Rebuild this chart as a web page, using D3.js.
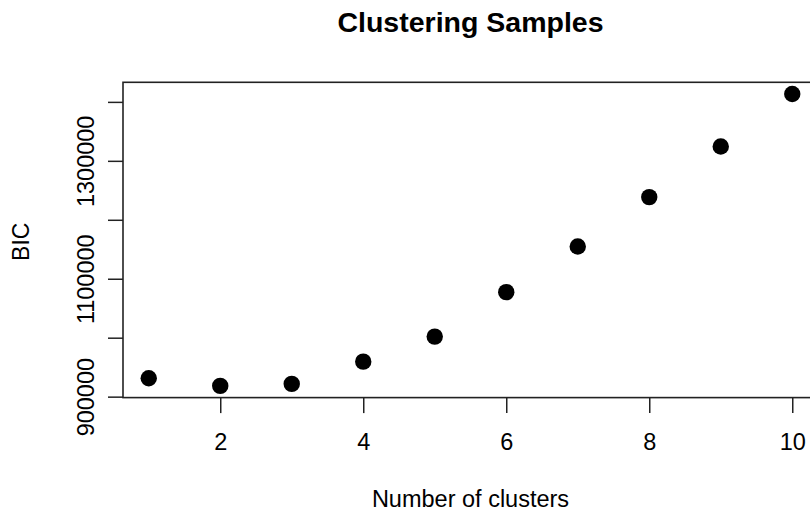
<!DOCTYPE html>
<html>
<head>
<meta charset="utf-8">
<script src="https://cdn.jsdelivr.net/npm/d3@7"></script>
<style>
  html, body { margin: 0; padding: 0; background: #fff; }
  svg { display: block; }
  text { font-family: "Liberation Sans", Arial, Helvetica, sans-serif; fill: #000; }
</style>
</head>
<body>
<svg id="chart" width="810" height="512"></svg>
<script>
// ---- data ----
const clusters = [1, 2, 3, 4, 5, 6, 7, 8, 9, 10];
const bic = [931200, 918200, 921600, 959400, 1001900, 1077300, 1154700, 1238500, 1324400, 1413400];
const xTicks = [2, 4, 6, 8, 10];
const yTicks = [900000, 1000000, 1100000, 1200000, 1300000, 1400000];
const yTickLabels = ["900000", "", "1100000", "", "1300000", ""];
const titleText = "Clustering Samples";
const xLabel = "Number of clusters";
const yLabel = "BIC";

(function () {
// ---- layout ----
const svg = d3.select("#chart");
const pLeft = 123, pRight = 818, pTop = 82.3, pBottom = 397.6;

// R-style 4% range extension
function pad(ext) { const d = (ext[1] - ext[0]) * 0.04; return [ext[0] - d, ext[1] + d]; }
const x = d3.scaleLinear().domain(pad(d3.extent(clusters))).range([pLeft, pRight]);
const y = d3.scaleLinear().domain(pad(d3.extent(bic))).range([pBottom, pTop]);

// x axis (at bottom of box)
const xAxis = d3.axisBottom(x).tickValues(xTicks).tickSize(15.5).tickPadding(20.5).tickFormat(d3.format("d"));
const gx = svg.append("g").attr("transform", `translate(0,${pBottom})`).call(xAxis);
gx.select(".domain").remove();
gx.selectAll(".tick line").attr("stroke", "#222").attr("stroke-width", 1.5);
gx.selectAll(".tick text").attr("font-size", 23.5).attr("fill", "#111");

// y axis
const yAxis = d3.axisLeft(y).tickValues(yTicks).tickSize(15).tickPadding(0)
  .tickFormat((d, i) => yTickLabels[i]);
const gy = svg.append("g").attr("transform", `translate(${pLeft},0)`).call(yAxis);
gy.select(".domain").remove();
gy.selectAll(".tick line").attr("stroke", "#222").attr("stroke-width", 1.5);
gy.selectAll(".tick text")
  .attr("font-size", 23.5).attr("fill", "#111")
  .attr("text-anchor", "middle")
  .attr("x", 0).attr("dy", 0)
  .attr("transform", `translate(${93.5 - pLeft},0) rotate(-90)`);

// box
svg.append("rect")
  .attr("x", pLeft).attr("y", pTop)
  .attr("width", pRight - pLeft).attr("height", pBottom - pTop)
  .attr("fill", "none").attr("stroke", "#222").attr("stroke-width", 1.6);

// points
svg.append("g").selectAll("circle")
  .data(clusters.map((c, i) => ({ c, v: bic[i] })))
  .join("circle")
  .attr("cx", d => x(d.c))
  .attr("cy", d => y(d.v))
  .attr("r", 8.2)
  .attr("fill", "#000");

// title
svg.append("text")
  .attr("x", (pLeft + pRight) / 2).attr("y", 32)
  .attr("text-anchor", "middle")
  .attr("font-size", 28.5).attr("font-weight", "bold")
  .text(titleText);

// x label
svg.append("text")
  .attr("x", (pLeft + pRight) / 2).attr("y", 507)
  .attr("text-anchor", "middle")
  .attr("font-size", 23.5)
  .attr("fill", "#111")
  .text(xLabel);

// y label
svg.append("text")
  .attr("transform", `translate(28.5,${y(1100000) - 37}) rotate(-90)`)
  .attr("text-anchor", "middle")
  .attr("font-size", 23)
  .attr("fill", "#111")
  .text(yLabel);
})();
</script>
</body>
</html>
